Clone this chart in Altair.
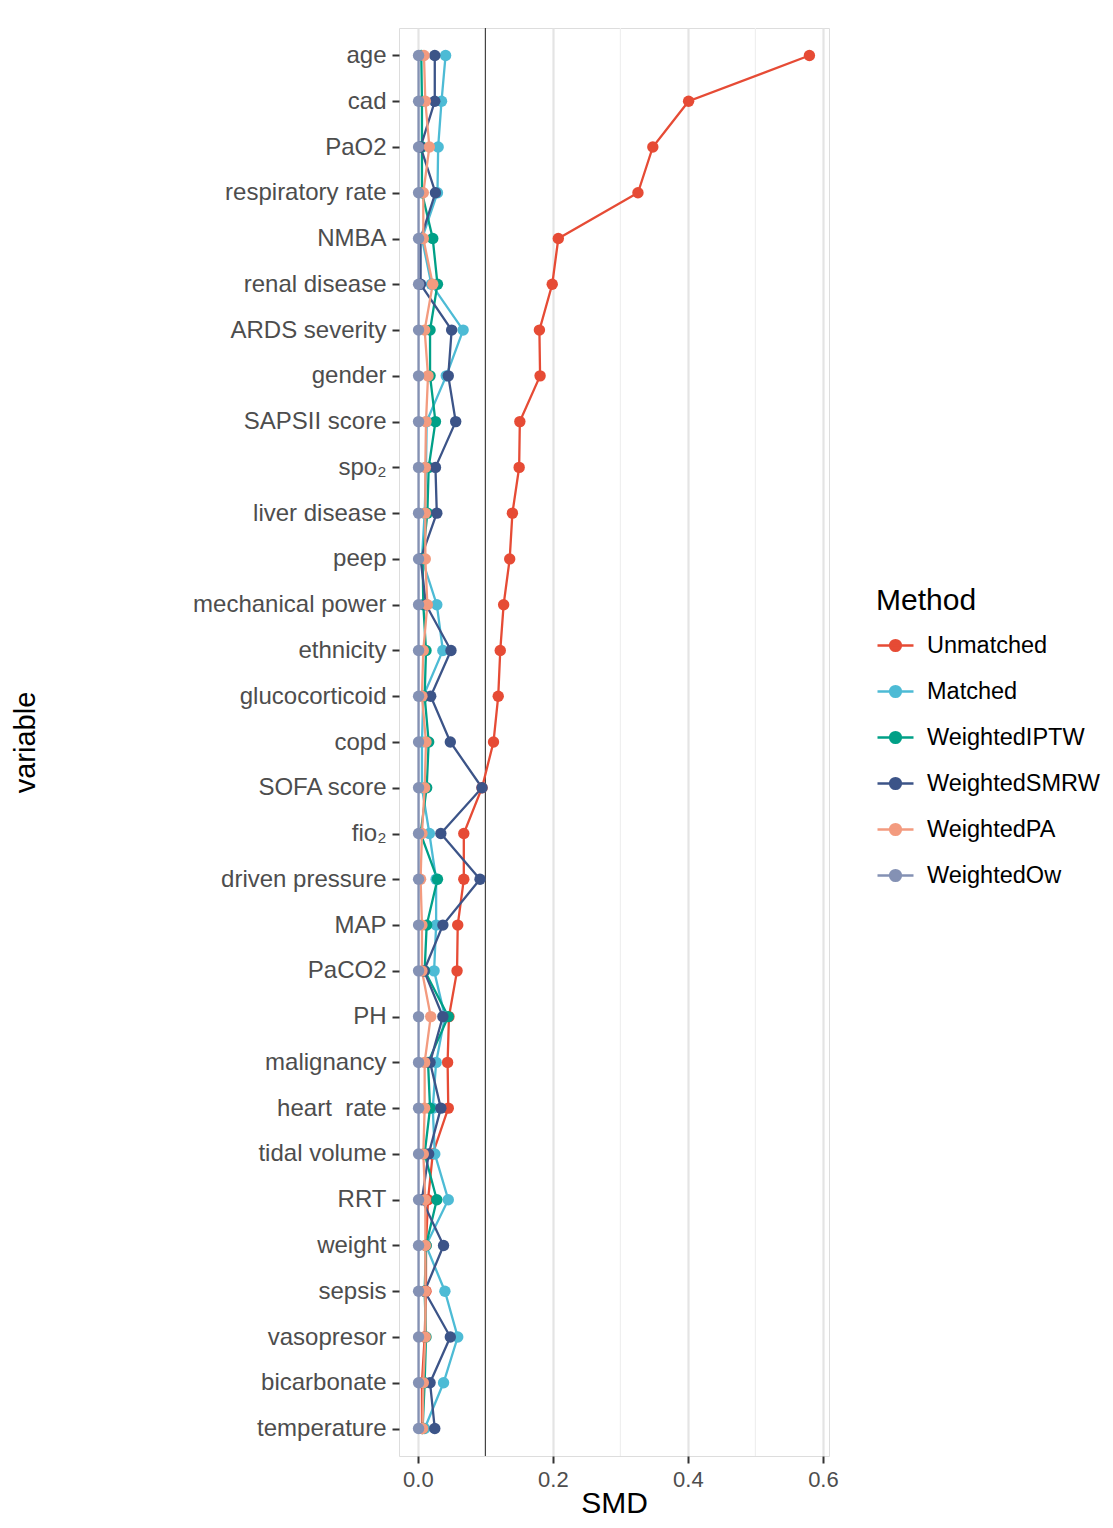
import altair as alt
import pandas as pd

variables = ["age", "cad", "PaO2", "respiratory rate", "NMBA", "renal disease",
             "ARDS severity", "gender", "SAPSII score", "spo\u2082", "liver disease",
             "peep", "mechanical power", "ethnicity", "glucocorticoid", "copd",
             "SOFA score", "fio\u2082", "driven pressure", "MAP", "PaCO2\u00a0", "PH\u00a0",
             "malignancy", "heart\u00a0 rate", "tidal volume", "RRT", "weight", "sepsis",
             "vasopresor", "bicarbonate", "temperature"]

methods = ["Unmatched", "Matched", "WeightedIPTW", "WeightedSMRW", "WeightedPA", "WeightedOw"]
colors = ["#E64B35", "#4DBBD5", "#00A087", "#3C5488", "#F39B7F", "#8491B4"]

unmatched = [0.580, 0.401, 0.348, 0.326, 0.208, 0.199, 0.180, 0.181, 0.151, 0.150, 0.140,
             0.136, 0.127, 0.122, 0.119, 0.112, 0.095, 0.068, 0.068, 0.059, 0.058, 0.046,
             0.044, 0.045, 0.022, 0.015, 0.012, 0.012, 0.010, 0.006, 0.006]
matched = [0.041, 0.035, 0.030, 0.029, 0.006, 0.020, 0.067, 0.042, 0.013, 0.012, 0.010,
           0.006, 0.028, 0.037, 0.008, 0.006, 0.006, 0.017, 0.027, 0.027, 0.024, 0.040,
           0.027, 0.022, 0.025, 0.045, 0.012, 0.040, 0.059, 0.038, 0.010]
iptw = [0.005, 0.006, 0.006, 0.006, 0.022, 0.029, 0.018, 0.018, 0.026, 0.016, 0.014,
        0.007, 0.008, 0.012, 0.010, 0.016, 0.013, 0.004, 0.029, 0.013, 0.010, 0.045,
        0.015, 0.018, 0.010, 0.028, 0.012, 0.010, 0.012, 0.010, 0.007]
smrw = [0.025, 0.025, 0.004, 0.026, 0.004, 0.004, 0.050, 0.045, 0.056, 0.026, 0.028,
        0.004, 0.012, 0.049, 0.019, 0.048, 0.095, 0.034, 0.092, 0.037, 0.009, 0.037,
        0.018, 0.034, 0.016, 0.006, 0.038, 0.010, 0.048, 0.018, 0.025]
pa = [0.009, 0.011, 0.017, 0.008, 0.008, 0.022, 0.010, 0.015, 0.012, 0.011, 0.011,
      0.011, 0.014, 0.008, 0.006, 0.012, 0.010, 0.006, 0.004, 0.006, 0.006, 0.019,
      0.010, 0.010, 0.008, 0.011, 0.011, 0.011, 0.011, 0.008, 0.007]
ow = [0.001] * len(variables)

series = [unmatched, matched, iptw, smrw, pa, ow]
x_ticks = [0.0, 0.2, 0.4, 0.6]
minor_ticks = [0.1, 0.3, 0.5]
threshold = [0.1]

rows = []
for m, vals in zip(methods, series):
    for i, (v, s) in enumerate(zip(variables, vals)):
        rows.append({"variable": v, "SMD": s, "Method": m, "idx": i})
df = pd.DataFrame(rows)

FONT = "Liberation Sans"

x_enc = alt.X("SMD:Q",
              scale=alt.Scale(domain=[-0.028, 0.609], nice=False, zero=False),
              axis=alt.Axis(values=x_ticks, format=".1f", title="SMD",
                            labelFontSize=22, labelColor="#4D4D4D", labelFont=FONT,
                            labelPadding=6, tickSize=7, tickWidth=2, tickColor="#333333",
                            domain=False, gridColor="#E4E4E4", gridWidth=2.2,
                            titleFontSize=30, titleFont=FONT, titleColor="#000000",
                            titleFontWeight="normal", titleY=47, titleBaseline="middle"))
y_enc = alt.Y("variable:N", sort=variables,
              scale=alt.Scale(type="point", padding=0.6),
              axis=alt.Axis(title="variable", labelFontSize=24, labelColor="#4D4D4D",
                            labelFont=FONT, labelPadding=6, labelLimit=0, tickSize=7,
                            tickWidth=2, tickColor="#333333", domain=False,
                            gridColor="#E4E4E4", gridWidth=2.2, titleFontSize=29,
                            titleFont=FONT, titleColor="#000000", titleFontWeight="normal",
                            titleAngle=270, titleX=-374, titleY=714,
                            titleAlign="center", titleBaseline="middle"))

legend_path = "M-1,0H1M0.3,0A0.3,0.3,0,1,1,-0.3,0A0.3,0.3,0,1,1,0.3,0Z"
color_enc = alt.Color("Method:N", sort=methods,
                      scale=alt.Scale(domain=methods, range=colors),
                      legend=alt.Legend(title="Method", orient="none", legendX=477, legendY=558,
                                        titleFontSize=30, titleFont=FONT, titleColor="#000000",
                                        titleFontWeight="normal", titlePadding=10,
                                        labelFontSize=23.5, labelFont=FONT, labelColor="#000000",
                                        labelOffset=12, labelLimit=0, symbolType=legend_path,
                                        symbolSize=1296, symbolStrokeWidth=2.4,
                                        symbolOpacity=1, rowPadding=15))

minor = alt.Chart(pd.DataFrame({"SMD": minor_ticks})).mark_rule(
    color="#EFEFEF", strokeWidth=1.2).encode(x=alt.X("SMD:Q", title="SMD"))
ref = alt.Chart(pd.DataFrame({"SMD": threshold})).mark_rule(
    color="#444444", strokeWidth=1.2).encode(x=alt.X("SMD:Q", title="SMD"))

base = alt.Chart(df)
lines = base.mark_line(strokeWidth=2.3).encode(
    x=x_enc, y=y_enc, color=color_enc, order=alt.Order("idx:Q"))
points = base.mark_point(filled=True, size=130, opacity=1).encode(
    x=x_enc, y=y_enc, color=color_enc)

chart = alt.layer(minor, ref, lines, points).properties(
    width=430, height=1428,
    padding={"left": 391, "top": 20, "right": 276, "bottom": 64},
    autosize="none",
).configure_view(stroke="#222222", strokeWidth=2).configure(background="#FFFFFF")

chart.save("out.html", embed_options={"renderer": "svg", "actions": False})
